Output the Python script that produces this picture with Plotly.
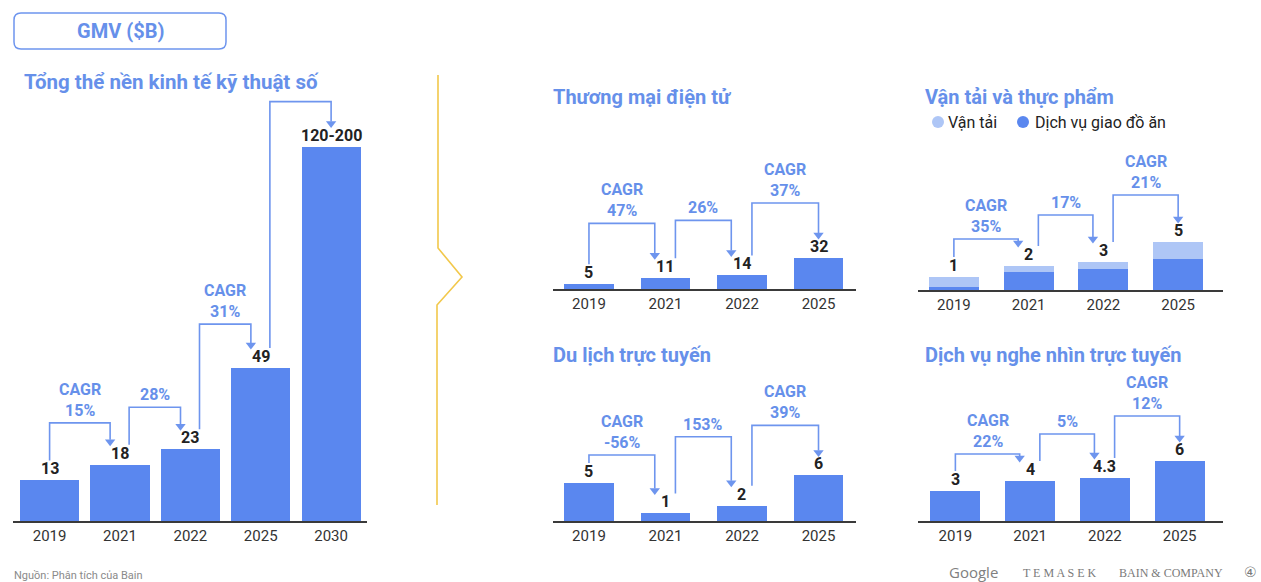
import plotly.graph_objects as go

W, H = 1261, 582

# ---------------- data ----------------
years_main = ["2019", "2021", "2022", "2025", "2030"]
gmv_total = [13, 18, 23, 49, 120]
gmv_labels = ["13", "18", "23", "49", "120-200"]
gmv_cagr = ["CAGR<br>15%", "28%", "CAGR<br>31%", ""]

years_small = ["2019", "2021", "2022", "2025"]

ecom_values = [5, 11, 14, 32]
ecom_labels = ["5", "11", "14", "32"]
ecom_cagr = ["CAGR<br>47%", "26%", "CAGR<br>37%"]

food_delivery = [0.3, 1.8, 2.1, 3.1]
ride_hailing = [1.0, 0.6, 0.7, 1.7]
transport_labels = ["1", "2", "3", "5"]
transport_cagr = ["CAGR<br>35%", "17%", "CAGR<br>21%"]

travel_values = [5, 1, 2, 6]
travel_labels = ["5", "1", "2", "6"]
travel_cagr = ["CAGR<br>-56%", "153%", "CAGR<br>39%"]

media_values = [3, 4, 4.3, 6]
media_labels = ["3", "4", "4.3", "6"]
media_cagr = ["CAGR<br>22%", "5%", "CAGR<br>12%"]

# ---------------- style ----------------
BLUE = "#5a87ef"
LIGHT = "#aec6f6"
TXTBLUE = "#6690ea"
LINEBLUE = "#6e95ee"
GOLD = "#f2c84b"
FONT = "Roboto, 'Open Sans', sans-serif"


def px2x(p):
    return p / W


def px2y(p):
    return 1 - p / H


charts = [
    dict(cats=years_main, series=[(gmv_total, BLUE)], labels=gmv_labels, cagr=gmv_cagr,
         xpx=(13, 367), base=521, top=95, ppu=3.12, xr=(-0.52, 4.51), bw=0.84,
         gaps=[42, 42, 44, 45], title=None),
    dict(cats=years_small, series=[(ecom_values, BLUE)], labels=ecom_labels, cagr=ecom_cagr,
         xpx=(553, 856), base=289, top=150, ppu=0.97, xr=(-0.47, 3.49), bw=0.65,
         gaps=[55, 55, 55], title=("Thương mại điện tử", 553, 97)),
    dict(cats=years_small, series=[(food_delivery, BLUE), (ride_hailing, LIGHT)],
         labels=transport_labels, cagr=transport_cagr,
         xpx=(918, 1223), base=290, top=150, ppu=10, xr=(-0.48, 3.6), bw=0.67,
         gaps=[27, 47, 47], title=("Vận tải và thực phẩm", 925, 97)),
    dict(cats=years_small, series=[(travel_values, BLUE)], labels=travel_labels, cagr=travel_cagr,
         xpx=(553, 856), base=521, top=380, ppu=7.6, xr=(-0.47, 3.49), bw=0.65,
         gaps=[28, 69, 50], title=("Du lịch trực tuyến", 553, 355)),
    dict(cats=years_small, series=[(media_values, BLUE)], labels=media_labels, cagr=media_cagr,
         xpx=(918, 1223), base=521, top=380, ppu=10, xr=(-0.5, 3.58), bw=0.67,
         gaps=[27, 44, 45], title=("Dịch vụ nghe nhìn trực tuyến", 925, 355)),
]

fig = go.Figure()
annotations = []
shapes = []
layout_axes = {}

for k, c in enumerate(charts):
    n = k + 1
    sfx = "" if n == 1 else str(n)
    xa, ya = "x" + sfx, "y" + sfx
    ncat = len(c["cats"])
    idx = list(range(ncat))
    ppu = c["ppu"]
    u = 1.0 / ppu

    layout_axes["xaxis" + sfx] = dict(
        domain=[px2x(c["xpx"][0]), px2x(c["xpx"][1])], range=list(c["xr"]), anchor=ya,
        tickmode="array", tickvals=idx, ticktext=c["cats"], showgrid=False, zeroline=False,
        showline=True, linecolor="#3a3a3a", linewidth=2, ticks="",
        tickfont=dict(size=15, color="#333333", family=FONT), fixedrange=True)
    layout_axes["yaxis" + sfx] = dict(
        domain=[px2y(c["base"]), px2y(c["top"])], range=[0, (c["base"] - c["top"]) / ppu],
        anchor=xa, visible=False, fixedrange=True)

    totals = [0.0] * ncat
    for vals, col in c["series"]:
        fig.add_trace(go.Bar(x=idx, y=vals, width=c["bw"], marker_color=col,
                             marker_line_width=0, xaxis=xa, yaxis=ya,
                             hoverinfo="skip", showlegend=False))
        totals = [t + v for t, v in zip(totals, vals)]

    # value labels
    for i in idx:
        annotations.append(dict(x=i, y=totals[i], xref=xa, yref=ya, text="<b>%s</b>" % c["labels"][i],
                                showarrow=False, yanchor="bottom", yshift=0,
                                font=dict(size=16, color="#222222", family=FONT)))

    # CAGR brackets
    for i in range(ncat - 1):
        j = i + 1
        xs = i + (0 if i == 0 else 0.13)
        xe = j + (0 if j == ncat - 1 else -0.14)
        ys = totals[i] + 20 * u
        lvl = max(totals[i], totals[j]) + c["gaps"][i] * u
        ytip = totals[j] + 19 * u
        fig.add_trace(go.Scatter(x=[xs, xs, xe, xe], y=[ys, lvl, lvl, ytip + 6 * u],
                                 mode="lines", line=dict(color=LINEBLUE, width=1.6),
                                 xaxis=xa, yaxis=ya, hoverinfo="skip", showlegend=False,
                                 cliponaxis=False))
        fig.add_trace(go.Scatter(x=[xe], y=[ytip + 4 * u], mode="markers",
                                 marker=dict(symbol="triangle-down", size=9, color=LINEBLUE),
                                 xaxis=xa, yaxis=ya, hoverinfo="skip", showlegend=False,
                                 cliponaxis=False))
        if c["cagr"][i]:
            annotations.append(dict(x=(xs + xe) / 2, y=lvl, xref=xa, yref=ya,
                                    text="<b>%s</b>" % c["cagr"][i], showarrow=False,
                                    yanchor="bottom", yshift=1,
                                    font=dict(size=16, color=TXTBLUE, family=FONT)))

    if c["title"]:
        t, tx, ty = c["title"]
        annotations.append(dict(x=px2x(tx - 2), y=px2y(ty), xref="paper", yref="paper",
                                text="<b>%s</b>" % t, showarrow=False, xanchor="left",
                                yanchor="middle", font=dict(size=20, color=TXTBLUE, family=FONT)))

# main title and header box
annotations.append(dict(x=px2x(22), y=px2y(82), xref="paper", yref="paper",
                        text="<b>Tổng thể nền kinh tế kỹ thuật số</b>", showarrow=False,
                        xanchor="left", yanchor="middle",
                        font=dict(size=20.5, color=TXTBLUE, family=FONT)))
annotations.append(dict(x=px2x(120), y=px2y(31), xref="paper", yref="paper",
                        text="<b>GMV ($B)</b>", showarrow=False, xanchor="center",
                        yanchor="middle", font=dict(size=20, color=TXTBLUE, family=FONT)))


def P(x, y):
    return "%.5f,%.5f" % (px2x(x), px2y(y))


x0, y0, x1, y1, r = 14, 13, 226, 49, 7
box = ("M %s L %s Q %s %s L %s Q %s %s L %s Q %s %s L %s Q %s %s Z" % (
    P(x0 + r, y0), P(x1 - r, y0), P(x1, y0), P(x1, y0 + r), P(x1, y1 - r), P(x1, y1),
    P(x1 - r, y1), P(x0 + r, y1), P(x0, y1), P(x0, y1 - r), P(x0, y0 + r), P(x0, y0),
    P(x0 + r, y0)))
shapes.append(dict(type="path", path=box, xref="paper", yref="paper",
                   line=dict(color=LINEBLUE, width=1.5)))

# gold divider
div = "M %s L %s L %s L %s L %s" % (P(438, 75), P(438, 248), P(462, 277), P(437, 305), P(437, 505))
shapes.append(dict(type="path", path=div, xref="paper", yref="paper",
                   line=dict(color=GOLD, width=1.6)))

# legend for transport chart
for cx, col, txt, tx in [(938, LIGHT, "Vận tải", 946), (1023, BLUE, "Dịch vụ giao đồ ăn", 1033)]:
    rr = 6
    shapes.append(dict(type="circle", xref="paper", yref="paper",
                       x0=px2x(cx - rr), x1=px2x(cx + rr), y0=px2y(122 + rr), y1=px2y(122 - rr),
                       fillcolor=col, line=dict(width=0)))
    annotations.append(dict(x=px2x(tx), y=px2y(122), xref="paper", yref="paper", text=txt,
                            showarrow=False, xanchor="left", yanchor="middle",
                            font=dict(size=16, color="#222222", family=FONT)))

# footer
annotations.append(dict(x=px2x(12), y=px2y(575), xref="paper", yref="paper",
                        text="Nguồn: Phân tích của Bain", showarrow=False, xanchor="left",
                        yanchor="middle", font=dict(size=11, color="#8a8a8a", family=FONT)))
annotations.append(dict(x=px2x(947), y=px2y(572), xref="paper", yref="paper", text="Google",
                        showarrow=False, xanchor="left", yanchor="middle",
                        font=dict(size=15, color="#808080", family="'Open Sans', sans-serif")))
annotations.append(dict(x=px2x(1021), y=px2y(573), xref="paper", yref="paper",
                        text="T E M A S E K", showarrow=False, xanchor="left", yanchor="middle",
                        font=dict(size=12, color="#7a7a7a", family="'Liberation Serif', serif")))
annotations.append(dict(x=px2x(1117), y=px2y(573), xref="paper", yref="paper",
                        text="BAIN &amp; COMPANY", showarrow=False, xanchor="left", yanchor="middle",
                        font=dict(size=12, color="#7a7a7a", family="'Liberation Serif', serif")))
annotations.append(dict(x=px2x(1242), y=px2y(572), xref="paper", yref="paper", text="④",
                        showarrow=False, xanchor="left", yanchor="middle",
                        font=dict(size=14, color="#7a7a7a", family="'DejaVu Sans', sans-serif")))

fig.update_layout(
    width=W, height=H, margin=dict(l=0, r=0, t=0, b=0),
    paper_bgcolor="white", plot_bgcolor="white", barmode="stack", bargap=0,
    showlegend=False, annotations=annotations, shapes=shapes,
    font=dict(family=FONT), **layout_axes)

fig.write_html("out.html", config={"displayModeBar": False},
               post_script="document.body.style.margin='0';document.body.style.overflow='hidden';")
